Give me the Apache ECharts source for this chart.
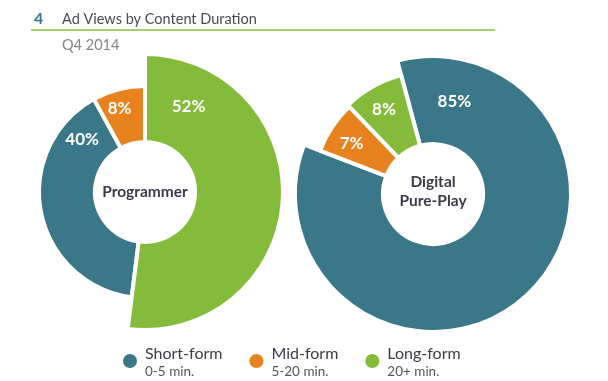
<!DOCTYPE html>
<html><head><meta charset="utf-8">
<script src="https://cdn.jsdelivr.net/npm/echarts@6/dist/echarts.min.js"></script>
<style>html,body{margin:0;padding:0;background:#fff}#c{width:608px;height:381px}</style>
</head><body><div id="c"></div>
<script>
// ---- data ----
const categories = ['Short-form', 'Mid-form', 'Long-form'];
const subLabels = ['0-5 min.', '5-20 min.', '20+ min.'];
const programmerValues = [40, 8, 52];
const digitalValues = [85, 7, 8];
const chartNames = ['Programmer', 'Digital\nPure-Play'];
const titleNumber = '4';
const titleText = 'Ad Views by Content Duration';
const subtitleText = 'Q4 2014';

// ---- style ----
const colors = ['#3a7889', '#e8821f', '#85bb3b'];
const FONT = 'Lato, "Open Sans", sans-serif';
const INNER = 52, BORDER = 4;
const charts = [
  { values: programmerValues, name: chartNames[0], center: [145, 192], textDy: 0, startAngle: -97.2,
    outer: [104, 104, 136], labelPos: [[82, 310], [87, 343], [96, 27]] },
  { values: digitalValues, name: chartNames[1], center: [433, 194], textDy: -2.5, startAngle: 105,
    outer: [136, 119, 121], labelPos: [[95, 13], [96, 302], [98, 330]] }
];

const series = [];
charts.forEach(ch => {
  categories.forEach((cat, k) => {
    const lp = ch.labelPos[k];
    series.push({
      type: 'pie',
      center: ch.center,
      radius: [INNER - BORDER / 2, ch.outer[k] + BORDER / 2],
      startAngle: ch.startAngle,
      clockwise: true,
      avoidLabelOverlap: false,
      animation: false,
      emphasis: { disabled: true },
      labelLine: { show: false },
      label: { position: 'inside', formatter: '{c}%', color: '#fff', fontFamily: FONT,
               fontWeight: 'bold', fontSize: 17 },
      labelLayout: function () {
        const a = lp[1] * Math.PI / 180;
        return { x: ch.center[0] + lp[0] * Math.sin(a), y: ch.center[1] - lp[0] * Math.cos(a),
                 align: 'center', verticalAlign: 'middle' };
      },
      data: categories.map((c, i) => ({
        name: c, value: ch.values[i],
        itemStyle: i === k ? { color: colors[i], borderColor: '#fff', borderWidth: BORDER }
                           : { color: 'rgba(0,0,0,0)', borderWidth: 0 },
        label: { show: i === k }
      }))
    });
  });
});

const chart = echarts.init(document.getElementById('c'), null, { renderer: 'canvas' });
chart.setOption({
  backgroundColor: '#fff',
  animation: false,
  legend: {
    data: categories.map((c, i) => ({ name: c, itemStyle: { color: colors[i], borderWidth: 0 } })),
    left: 118, top: 341, itemWidth: 20, itemHeight: 14, icon: 'circle', itemGap: 27,
    selectedMode: false,
    formatter: name => '{a|' + name + '}\n{b|' + subLabels[categories.indexOf(name)] + '}',
    textStyle: { rich: {
      a: { fontSize: 16, lineHeight: 22, color: '#3d3b4a', fontFamily: FONT },
      b: { fontSize: 13.5, lineHeight: 14, color: '#555', fontFamily: FONT }
    } }
  },
  graphic: [
    { type: 'text', x: 34, y: 19, style: { text: titleNumber, fill: '#3a7889', fontFamily: FONT,
      fontWeight: 'bold', fontSize: 16, verticalAlign: 'middle' } },
    { type: 'text', x: 62, y: 19, style: { text: titleText, fill: '#4a4a55', fontFamily: FONT,
      fontSize: 14.5, verticalAlign: 'middle' } },
    { type: 'line', shape: { x1: 31, y1: 30, x2: 495, y2: 30 }, style: { stroke: '#80c342', lineWidth: 1.5 } },
    { type: 'text', x: 62, y: 45, style: { text: subtitleText, fill: '#858585', fontFamily: FONT,
      fontSize: 14.5, verticalAlign: 'middle' } },
    ...charts.map(ch => ({ type: 'text', x: ch.center[0], y: ch.center[1] + ch.textDy, z: 10,
      style: { text: ch.name, fill: '#3d3b4a', fontFamily: FONT, fontWeight: 'bold', fontSize: 15.5,
               lineHeight: 19, align: 'center', verticalAlign: 'middle' } }))
  ],
  series: series
});
</script>
</body></html>
